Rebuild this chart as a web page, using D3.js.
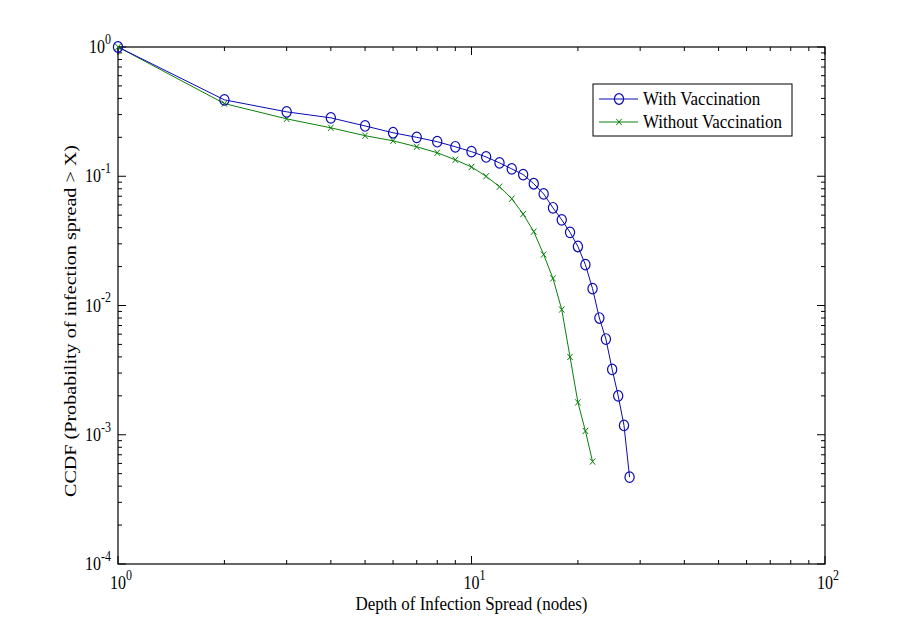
<!DOCTYPE html>
<head>
    <meta charset="utf-8">
    <script src="https://cdnjs.cloudflare.com/ajax/libs/d3/7.8.5/d3.min.js"></script>
    <style>
        body { margin: 0; background: #fff; }
        svg { display: block; }
        text { font-family: "Liberation Serif", "Times New Roman", serif; fill: #000; }
    </style>
</head>
<body>
<script>
    // depth values (x) and CCDF values
    var depthWith = d3.range(1, 29);
    var ccdfWith = [1.0, 0.39, 0.315, 0.283, 0.245, 0.217, 0.2, 0.185, 0.169, 0.155,
        0.141, 0.127, 0.114, 0.103, 0.0875, 0.073, 0.057, 0.046, 0.0368, 0.0286,
        0.0207, 0.0135, 0.0080, 0.0055, 0.0032, 0.0020, 0.00118, 0.00047];
    var depthWithout = d3.range(1, 23);
    var ccdfWithout = [1.0, 0.365, 0.278, 0.237, 0.206, 0.188, 0.169, 0.152, 0.134, 0.118,
        0.0999, 0.083, 0.067, 0.051, 0.0373, 0.0248, 0.0162, 0.0093, 0.0040, 0.00178,
        0.00107, 0.00062];
    var xTickExp = [0, 1, 2];
    var yTickExp = [0, -1, -2, -3, -4];
    var seriesNames = ["With Vaccination", "Without Vaccination"];

    var W = 910, H = 634;
    var pL = 118, pR = 825, pT = 47, pB = 564;
    var stretch = 1.15; // the picture is a bit taller than wide

    var svg = d3.select("body").append("svg")
        .attr("width", W).attr("height", H);

    var x = d3.scaleLog().domain([1, 100]).range([pL, pR]);
    var y = d3.scaleLog().domain([1e-4, 1]).range([pB, pT]);

    // minor tick positions
    var xMinor = [], yMinor = [];
    [1, 10].forEach(function (b) { for (var k = 2; k < 10; k++) xMinor.push(b * k); });
    [1e-4, 1e-3, 1e-2, 1e-1].forEach(function (b) { for (var k = 2; k < 10; k++) yMinor.push(b * k); });

    var ticks = svg.append("g").attr("stroke", "#000").attr("stroke-width", 1);
    var majL = 8, minL = 4;
    function xt(v, len) {
        ticks.append("line").attr("x1", x(v)).attr("x2", x(v)).attr("y1", pB).attr("y2", pB - len);
        ticks.append("line").attr("x1", x(v)).attr("x2", x(v)).attr("y1", pT).attr("y2", pT + len);
    }
    function yt(v, len) {
        ticks.append("line").attr("y1", y(v)).attr("y2", y(v)).attr("x1", pL).attr("x2", pL + len);
        ticks.append("line").attr("y1", y(v)).attr("y2", y(v)).attr("x1", pR).attr("x2", pR - len);
    }
    xTickExp.forEach(function (e) { xt(Math.pow(10, e), majL); });
    xMinor.forEach(function (v) { xt(v, minL); });
    yTickExp.forEach(function (e) { yt(Math.pow(10, e), majL); });
    yMinor.forEach(function (v) { yt(v, minL); });

    svg.append("rect")
        .attr("x", pL).attr("y", pT)
        .attr("width", pR - pL).attr("height", pB - pT)
        .attr("fill", "none").attr("stroke", "#000").attr("stroke-width", 1.2);

    // text placed at (tx,ty) and stretched vertically
    function label(tx, ty, anchor, size) {
        return svg.append("text")
            .attr("transform", "translate(" + tx + "," + ty + ") scale(1," + stretch + ")")
            .attr("text-anchor", anchor).attr("font-size", size);
    }

    // tick labels
    xTickExp.forEach(function (e) {
        var t = label(x(Math.pow(10, e)) + 3, pB + 25, "middle", 16);
        t.append("tspan").text("10");
        t.append("tspan").attr("dy", -8).attr("font-size", 12).text(e);
    });
    yTickExp.forEach(function (e) {
        var t = label(pL - 7, y(Math.pow(10, e)) + 6, "end", 16);
        t.append("tspan").text("10");
        t.append("tspan").attr("dy", -8).attr("font-size", 12).text(e);
    });

    label((pL + pR) / 2, 610, "middle", 17).text("Depth of Infection Spread (nodes)");
    svg.append("text")
        .attr("transform", "translate(76,321) rotate(-90) scale(" + stretch + ",1)")
        .attr("text-anchor", "middle").attr("font-size", 17.5)
        .text("CCDF (Probability of infection spread > X)");

    var blue = "#0a0ab4", green = "#0a800a";
    var line = d3.line().x(function (d) { return x(d[0]); }).y(function (d) { return y(d[1]); });

    var dWith = d3.zip(depthWith, ccdfWith);
    var dWithout = d3.zip(depthWithout, ccdfWithout);

    svg.append("path").datum(dWithout).attr("d", line)
        .attr("fill", "none").attr("stroke", green).attr("stroke-width", 1);
    svg.append("path").datum(dWith).attr("d", line)
        .attr("fill", "none").attr("stroke", blue).attr("stroke-width", 1);

    function cross(g, cx, cy, s) {
        var sy = s * stretch;
        g.append("path")
            .attr("d", "M" + (cx - s) + "," + (cy - sy) + "L" + (cx + s) + "," + (cy + sy) +
                "M" + (cx - s) + "," + (cy + sy) + "L" + (cx + s) + "," + (cy - sy))
            .attr("stroke", green).attr("stroke-width", 1);
    }
    var gx = svg.append("g");
    dWithout.forEach(function (d) { cross(gx, x(d[0]), y(d[1]), 2.7); });

    svg.append("g").selectAll("ellipse").data(dWith).enter().append("ellipse")
        .attr("cx", function (d) { return x(d[0]); })
        .attr("cy", function (d) { return y(d[1]); })
        .attr("rx", 4.6).attr("ry", 4.6 * stretch)
        .attr("fill", "none").attr("stroke", blue).attr("stroke-width", 1.2);

    // legend
    var lg = svg.append("g");
    lg.append("rect").attr("x", 593).attr("y", 84).attr("width", 199).attr("height", 52)
        .attr("fill", "#fff").attr("stroke", "#000").attr("stroke-width", 1);
    var rows = [99, 122];
    lg.append("line").attr("x1", 599).attr("x2", 638).attr("y1", rows[0]).attr("y2", rows[0])
        .attr("stroke", blue);
    lg.append("ellipse").attr("cx", 619).attr("cy", rows[0]).attr("rx", 4.6).attr("ry", 4.6 * stretch)
        .attr("fill", "none").attr("stroke", blue).attr("stroke-width", 1.2);
    lg.append("line").attr("x1", 599).attr("x2", 638).attr("y1", rows[1]).attr("y2", rows[1])
        .attr("stroke", green);
    cross(lg, 619, rows[1], 2.7);
    seriesNames.forEach(function (n, i) {
        label(643, rows[i] + 6, "start", 17).text(n);
    });
</script>
</body>
